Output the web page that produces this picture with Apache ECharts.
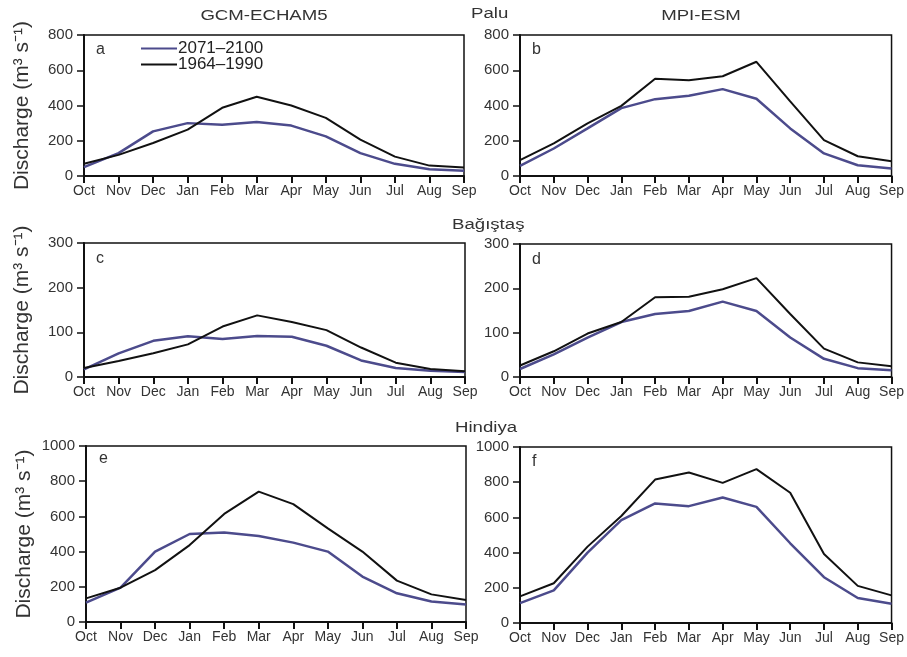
<!DOCTYPE html>
<html>
<head>
<meta charset="utf-8">
<script src="https://cdn.jsdelivr.net/npm/echarts@6/dist/echarts.min.js"></script>
<style>html,body{margin:0;padding:0;background:#fff;}#c{width:907px;height:657px;}</style>
</head>
<body>
<div id="c"></div>
<script>
const months = ['Oct','Nov','Dec','Jan','Feb','Mar','Apr','May','Jun','Jul','Aug','Sep'];
const seriesNames = ['2071–2100', '1964–1990'];
// Palu
const paluEchamFuture = [50, 130, 253, 300, 291, 307, 286, 225, 130, 69, 38, 30];
const paluEchamBase   = [70, 120, 187, 263, 387, 450, 400, 330, 206, 110, 59, 48];
const paluMpiFuture   = [57, 156, 270, 385, 436, 455, 493, 438, 270, 128, 61, 42];
const paluMpiBase     = [90, 185, 299, 398, 552, 543, 566, 648, 423, 204, 112, 84];
// Bağıştaş
const bagEchamFuture = [17, 53, 81, 91, 85, 92, 90, 70, 37, 20, 14, 11];
const bagEchamBase   = [20, 36, 53, 73, 113, 138, 123, 105, 66, 32, 18, 13];
const bagMpiFuture   = [18, 51, 89, 124, 142, 149, 170, 149, 89, 41, 20, 15];
const bagMpiBase     = [26, 58, 98, 124, 180, 181, 198, 223, 142, 64, 33, 24];
// Hindiya
const hinEchamFuture = [110, 195, 400, 500, 509, 489, 451, 400, 258, 163, 116, 100];
const hinEchamBase   = [134, 195, 295, 437, 614, 741, 670, 532, 400, 235, 157, 125];
const hinMpiFuture   = [113, 185, 400, 585, 679, 664, 713, 660, 453, 260, 142, 109];
const hinMpiBase     = [151, 226, 434, 608, 815, 855, 796, 874, 740, 392, 211, 157];
// axis ranges
const yMax = [800, 800, 300, 300, 1000, 1000];
const yInterval = [200, 200, 100, 100, 200, 200];
const panelLetters = ['a','b','c','d','e','f'];

const panels = [
  [paluEchamFuture, paluEchamBase], [paluMpiFuture, paluMpiBase],
  [bagEchamFuture, bagEchamBase], [bagMpiFuture, bagMpiBase],
  [hinEchamFuture, hinEchamBase], [hinMpiFuture, hinMpiBase]
];
const gridPos = [
  {left: 84, top: 35, width: 380, height: 141},
  {left: 520, top: 35, width: 381, height: 141},
  {left: 84, top: 243, width: 381, height: 134},
  {left: 520, top: 244, width: 381, height: 133},
  {left: 86, top: 446, width: 380, height: 176},
  {left: 520, top: 447, width: 381, height: 176}
];
const letterPos = [[96, 50], [532, 50], [96, 259], [532, 260], [99, 459], [532, 462]];

const blue = '#4c4b8c';
const black = '#111111';
const txt = '#333333';
const font = 'Liberation Sans, Arial, sans-serif';

const grids = [], xAxes = [], yAxes = [], series = [], graphics = [];
panels.forEach((p, i) => {
  grids.push(Object.assign({show: true, borderColor: black, borderWidth: 1.5, backgroundColor: 'transparent', containLabel: false}, gridPos[i]));
  xAxes.push({
    type: 'category', gridIndex: i, data: months, boundaryGap: false,
    axisLine: {lineStyle: {color: black, width: 2}},
    axisTick: {show: true, length: 7, lineStyle: {color: black, width: 2}, alignWithLabel: true},
    axisLabel: {color: txt, fontSize: 14, fontFamily: font, margin: 8, interval: 0},
    splitLine: {show: false}
  });
  const isLeft = i % 2 === 0;
  yAxes.push({
    type: 'value', gridIndex: i, min: 0, max: yMax[i], interval: yInterval[i],
    name: isLeft ? 'Discharge (m³ s⁻¹)' : '',
    nameLocation: 'middle', nameGap: 51, nameRotate: 90,
    nameTextStyle: {color: txt, fontSize: 21, fontFamily: font},
    axisLine: {show: true, lineStyle: {color: black, width: 2}},
    axisTick: {show: true, length: 7, lineStyle: {color: black, width: 1.5}},
    axisLabel: {color: txt, fontSize: 15, fontFamily: font, margin: 11, formatter: v => String(v)},
    splitLine: {show: false}
  });
  series.push({
    name: seriesNames[0], type: 'line', xAxisIndex: i, yAxisIndex: i, data: p[0],
    symbol: 'none', lineStyle: {color: blue, width: 2.5}, itemStyle: {color: blue}, z: 2
  });
  series.push({
    name: seriesNames[1], type: 'line', xAxisIndex: i, yAxisIndex: i, data: p[1],
    symbol: 'none', lineStyle: {color: black, width: 2}, itemStyle: {color: black}, z: 3
  });
  graphics.push({type: 'text', x: letterPos[i][0], y: letterPos[i][1],
    style: {text: panelLetters[i], fill: txt, font: '16px ' + font, textVerticalAlign: 'middle'}});
});

const headers = [
  {text: 'GCM-ECHAM5', x: 264, y: 16, align: 'center'},
  {text: 'MPI-ESM', x: 701, y: 16, align: 'center'},
  {text: 'Palu', x: 471, y: 14, align: 'left'},
  {text: 'Bağıştaş', x: 452, y: 225, align: 'left'},
  {text: 'Hindiya', x: 455, y: 428, align: 'left'}
];
headers.forEach(h => graphics.push({type: 'text', x: h.x, y: h.y, scaleX: 1.33,
  style: {text: h.text, fill: txt, font: '14px ' + font, textAlign: h.align, textVerticalAlign: 'middle'}}));

const chart = echarts.init(document.getElementById('c'), null, {renderer: 'canvas'});
chart.setOption({
  animation: false,
  backgroundColor: '#fff',
  grid: grids, xAxis: xAxes, yAxis: yAxes, series: series,
  legend: {
    data: seriesNames.map(n => ({name: n, icon: 'rect'})),
    orient: 'vertical', left: 141, top: 40, padding: 0,
    itemWidth: 36, itemHeight: 2, itemGap: -1,
    textStyle: {color: '#222', fontSize: 17, fontFamily: font, padding: [0, 0, 0, -4]},
    selectedMode: false
  },
  graphic: graphics
});
</script>
</body>
</html>
